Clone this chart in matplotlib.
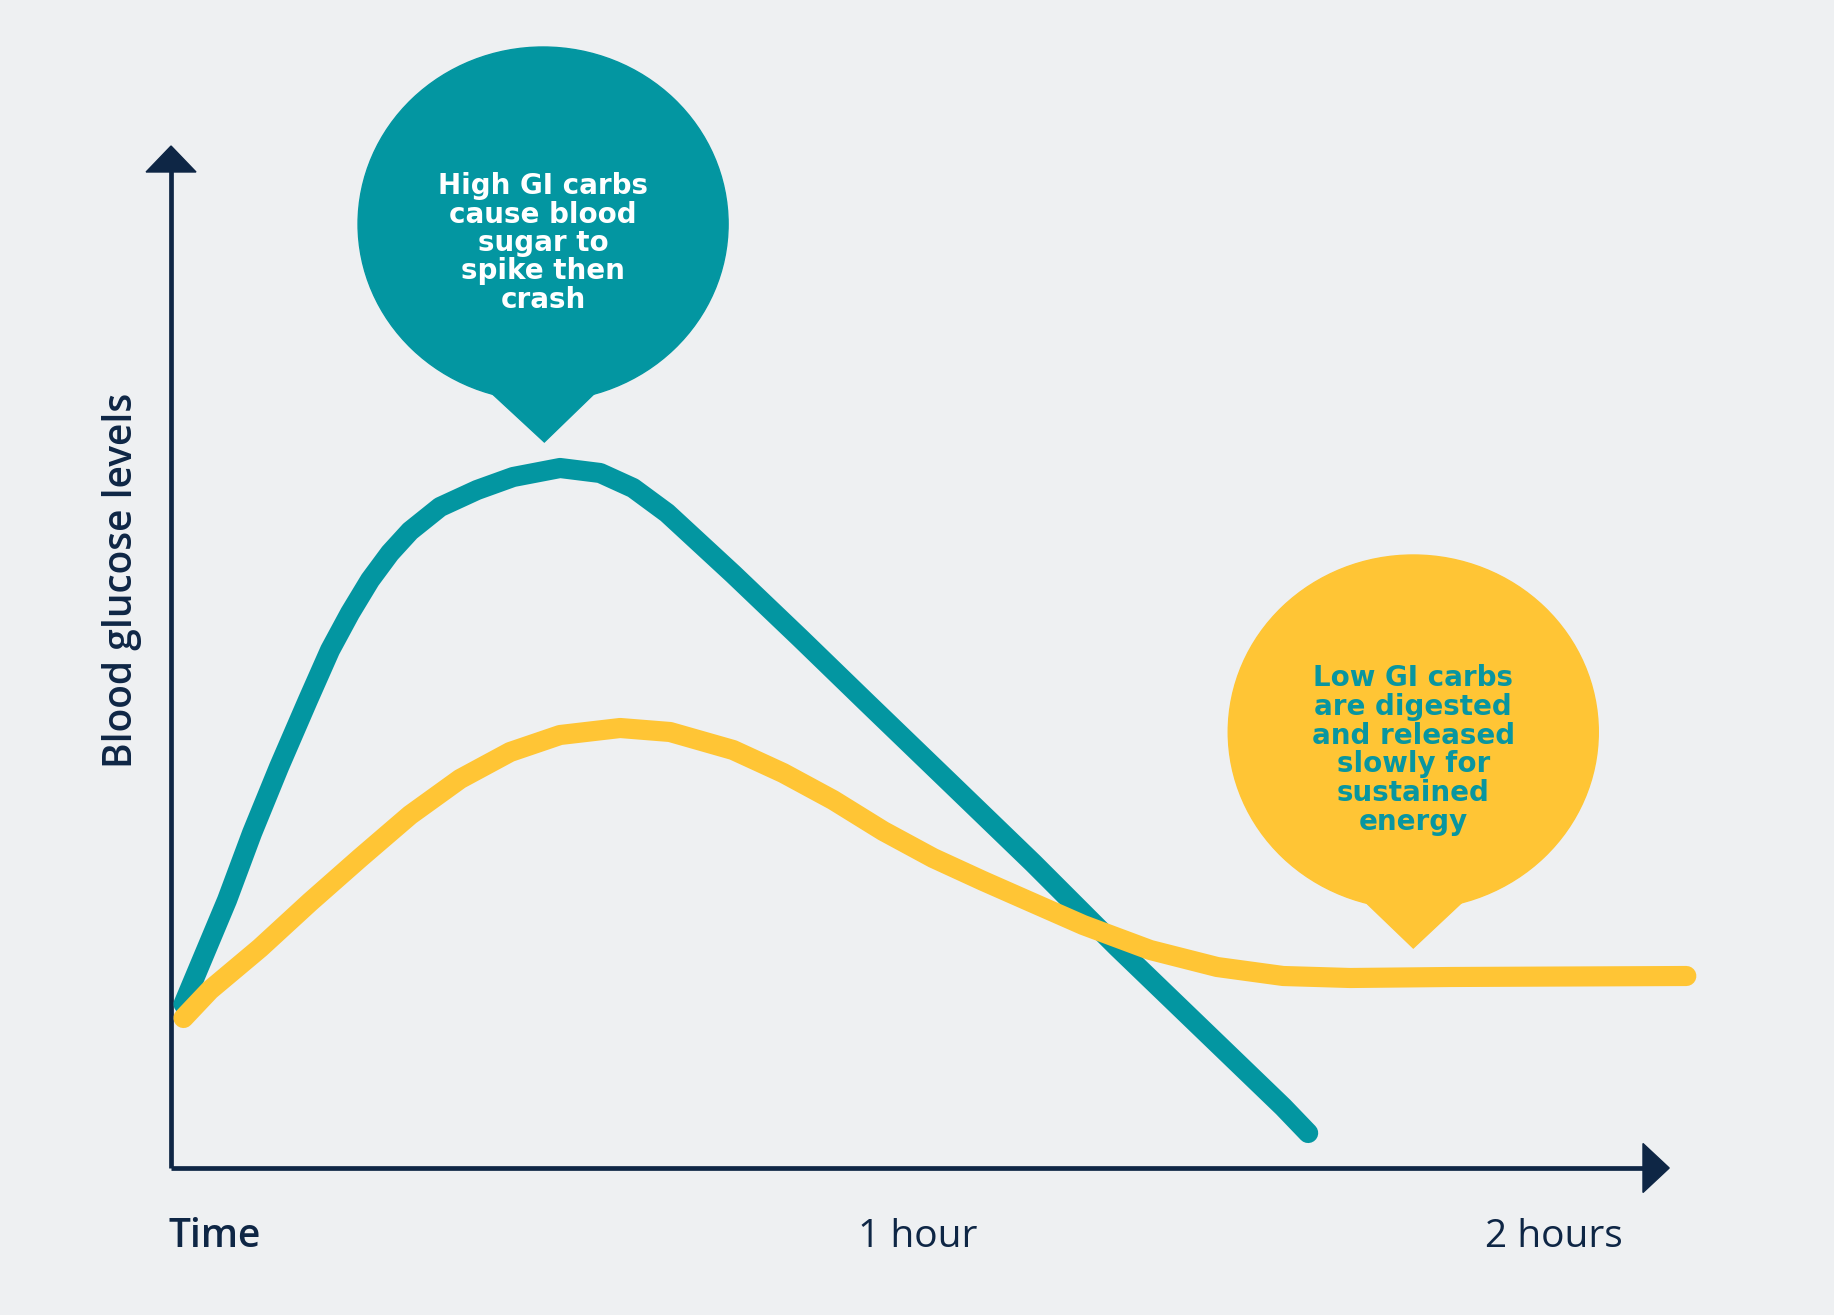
import numpy as np
import matplotlib.pyplot as plt
from matplotlib.patches import Ellipse, Polygon

# colours
bg = '#EEF0F2'
teal = '#0396A1'
yellow = '#FFC535'
navy = '#0E2645'

# time in minutes, blood glucose level in arbitrary units
high_gi_t = [1.00, 4.49, 6.49, 8.65, 10.97, 12.74, 14.34, 15.94, 17.54, 19.15,
             21.55, 24.51, 27.40, 31.16, 34.37, 37.01, 39.73, 45.02, 50.39, 55.76,
             62.41, 69.05, 75.78, 82.43, 89.08, 91.08]
high_gi_level = [16.4, 26.8, 33.5, 40.1, 46.8, 51.8, 55.5, 58.8, 61.5, 63.7,
                 66.1, 67.8, 69.1, 70.0, 69.5, 68.0, 65.5, 59.4, 53.0, 46.5,
                 38.5, 30.5, 22.1, 14.1, 6.1, 3.5]

low_gi_t = [1.00, 3.12, 7.13, 11.14, 15.14, 19.15, 23.15, 27.16, 31.16, 35.97, 39.97,
            45.02, 49.03, 53.03, 57.04, 61.04, 65.05, 69.05, 73.06, 78.43, 83.79,
            89.08, 94.45, 102.46, 121.37]
low_gi_level = [15.0, 17.8, 22.0, 26.6, 31.0, 35.3, 38.9, 41.6, 43.3, 44.0, 43.6,
                41.8, 39.5, 36.8, 33.7, 31.0, 28.7, 26.5, 24.3, 21.8, 20.1,
                19.2, 19.0, 19.1, 19.2]

tick_labels = ['Time', '1 hour', '2 hours']
y_label = 'Blood glucose levels'

high_text = 'High GI carbs\ncause blood\nsugar to\nspike then\ncrash'
low_text = 'Low GI carbs\nare digested\nand released\nslowly for\nsustained\nenergy'

fig = plt.figure(figsize=(18.34, 13.15), dpi=100, facecolor=bg)
ax = fig.add_axes([0, 0, 1, 1])
ax.set_facecolor(bg)
ax.set_xlim(-13.7, 133.2)
ax.set_ylim(-14.7, 116.8)
ax.axis('off')

# axes with arrow heads
ax.plot([0, 0], [0, 100], color=navy, lw=3.4, solid_capstyle='butt', zorder=2)
ax.plot([0, 118], [0, 0], color=navy, lw=3.4, solid_capstyle='butt', zorder=2)
ax.add_patch(Polygon([[-2.0, 99.6], [2.0, 99.6], [0, 102.2]], closed=True,
                     color=navy, zorder=2))
ax.add_patch(Polygon([[117.9, 2.45], [117.9, -2.45], [120.0, 0]], closed=True,
                     color=navy, zorder=2))

# curves
ax.plot(high_gi_t, high_gi_level, color=teal, lw=14.5, solid_capstyle='round',
        solid_joinstyle='round', zorder=3)
ax.plot(low_gi_t, low_gi_level, color=yellow, lw=14.5, solid_capstyle='round',
        solid_joinstyle='round', zorder=4)

# speech bubbles
ax.add_patch(Ellipse((29.8, 94.4), 29.64, 35.4, color=teal, zorder=5))
ax.add_patch(Polygon([[25.4, 77.8], [34.2, 77.8], [29.9, 72.6]], closed=True,
                     color=teal, zorder=5))
ax.text(29.8, 92.5, high_text, ha='center', va='center', color='white',
        fontsize=20, fontweight='bold', linespacing=1.02, zorder=6)

ax.add_patch(Ellipse((99.5, 43.6), 29.64, 35.4, color=yellow, zorder=5))
ax.add_patch(Polygon([[95.5, 26.8], [103.6, 26.8], [99.5, 22.0]], closed=True,
                     color=yellow, zorder=5))
ax.text(99.5, 41.8, low_text, ha='center', va='center', color='#0896A0',
        fontsize=20, fontweight='bold', linespacing=1.04, zorder=6)

# axis labels
ax.text(-0.2, -6.9, tick_labels[0], ha='left', va='center', color=navy,
        fontsize=28, fontweight='semibold', family='Open Sans')
ax.text(59.8, -6.9, tick_labels[1], ha='center', va='center', color=navy,
        fontsize=28, family='Open Sans')
ax.text(116.3, -6.9, tick_labels[2], ha='right', va='center', color=navy,
        fontsize=28, family='Open Sans')
ax.text(-3.9, 58.8, y_label, ha='center', va='center', rotation=90,
        color=navy, fontsize=28, fontweight='semibold', family='Open Sans')

fig.savefig('out.png', dpi=100, facecolor=bg)
